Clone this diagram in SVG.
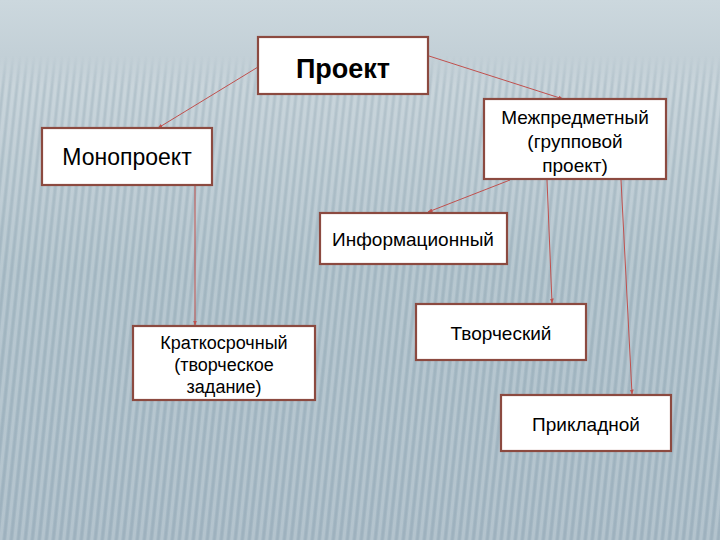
<svg xmlns="http://www.w3.org/2000/svg" width="720" height="540" viewBox="0 0 720 540">
<defs>
<linearGradient id="bg" x1="0" y1="0" x2="0" y2="1">
<stop offset="0" stop-color="#ccd8de"/>
<stop offset="0.1" stop-color="#c3d0d7"/>
<stop offset="0.5" stop-color="#abbec8"/>
<stop offset="1" stop-color="#a5b8c4"/>
</linearGradient>
<linearGradient id="fade" x1="0" y1="0" x2="0" y2="1">
<stop offset="0" stop-color="#fff" stop-opacity="0"/>
<stop offset="0.1" stop-color="#fff" stop-opacity="0"/>
<stop offset="0.16" stop-color="#fff" stop-opacity="1"/>
<stop offset="1" stop-color="#fff" stop-opacity="1"/>
</linearGradient>
<mask id="m"><rect width="720" height="540" fill="url(#fade)"/></mask>
<pattern id="stripes" width="7" height="540" patternUnits="userSpaceOnUse" patternTransform="skewX(-6)">
<rect x="0" y="0" width="3" height="540" fill="#ffffff" opacity="0.16"/>
<rect x="4" y="0" width="2" height="540" fill="#6f8796" opacity="0.12"/>
</pattern>
<marker id="arr" viewBox="0 0 10 10" refX="9" refY="5" markerWidth="5" markerHeight="5" orient="auto">
<path d="M0,1 L10,5 L0,9 z" fill="#c0504d"/>
</marker>
<style>
.box{fill:#ffffff;stroke:#8c4a40;stroke-width:2.2}
.lbl{font-family:"Liberation Sans",Arial,sans-serif;font-size:19px;fill:#000;text-anchor:middle}
.big{font-size:23px}
.mid{font-size:18px}
.bold{font-weight:bold;font-size:27px}
.con{stroke:#c0504d;stroke-width:1;fill:none;marker-end:url(#arr)}
</style>
</defs>
<rect width="720" height="540" fill="url(#bg)"/>
<rect width="720" height="540" fill="url(#stripes)" mask="url(#m)"/>
<g id="connectors">
<line class="con" x1="258" y1="67" x2="158" y2="128"/>
<line class="con" x1="429" y1="56" x2="563" y2="99"/>
<line class="con" x1="195" y1="186" x2="195" y2="325"/>
<line class="con" x1="510" y1="180" x2="428" y2="212"/>
<line class="con" x1="547" y1="180" x2="552" y2="303"/>
<line class="con" x1="621" y1="180" x2="632" y2="394"/>
</g>
<g id="n-proekt">
<rect class="box" x="258" y="37" width="170" height="57"/>
<text class="lbl bold" x="343" y="78">Проект</text>
</g>
<g id="n-mono">
<rect class="box" x="42" y="128" width="170" height="57"/>
<text class="lbl big" x="127" y="165">Монопроект</text>
</g>
<g id="n-mezh">
<rect class="box" x="484" y="99" width="182" height="80"/>
<text class="lbl" x="575" y="124">Межпредметный</text>
<text class="lbl" x="575" y="148">(групповой</text>
<text class="lbl" x="575" y="172">проект)</text>
</g>
<g id="n-info">
<rect class="box" x="320" y="213" width="187" height="51"/>
<text class="lbl" x="413" y="246">Информационный</text>
</g>
<g id="n-krat">
<rect class="box" x="133" y="326" width="182" height="74"/>
<text class="lbl mid" x="224" y="349">Краткосрочный</text>
<text class="lbl mid" x="224" y="371">(творческое</text>
<text class="lbl mid" x="224" y="393">задание)</text>
</g>
<g id="n-tvor">
<rect class="box" x="416" y="304" width="170" height="56"/>
<text class="lbl" x="501" y="340">Творческий</text>
</g>
<g id="n-prikl">
<rect class="box" x="501" y="395" width="170" height="56"/>
<text class="lbl" x="586" y="431">Прикладной</text>
</g>
</svg>
